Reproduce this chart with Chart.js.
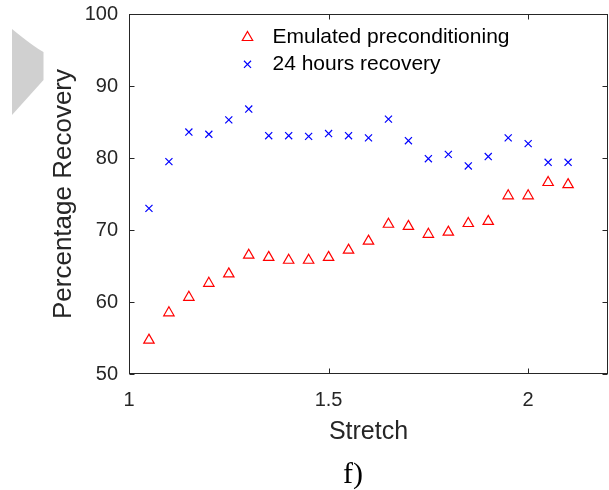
<!DOCTYPE html>
<html><head><meta charset="utf-8">
<script src="https://cdn.jsdelivr.net/npm/chart.js@4.4.0/dist/chart.umd.min.js"></script>
<style>html,body{margin:0;padding:0;background:#fff;} #wrap{width:609px;height:490px;position:relative;}</style>
</head><body><div id="wrap"><canvas id="c" width="609" height="490"></canvas></div>
<script>
const stretch = [1.05, 1.10, 1.15, 1.20, 1.25, 1.30, 1.35, 1.40, 1.45, 1.50, 1.55, 1.60, 1.65, 1.70, 1.75, 1.80, 1.85, 1.90, 1.95, 2.00, 2.05, 2.10];
const emulated = [54.7, 58.5, 60.65, 62.6, 63.9, 66.5, 66.2, 65.8, 65.8, 66.2, 67.2, 68.45, 70.8, 70.5, 69.4, 69.7, 70.9, 71.2, 74.75, 74.75, 76.6, 76.3];
const recovery24 = [73.0, 79.5, 83.6, 83.3, 85.3, 86.8, 83.1, 83.1, 83.0, 83.4, 83.1, 82.8, 85.4, 82.4, 79.9, 80.5, 78.9, 80.2, 82.8, 82.0, 79.4, 79.4];
const xTickValues = [1, 1.5, 2];
const yTickValues = [50, 60, 70, 80, 90, 100];
const seriesNames = ['Emulated preconditioning', '24 hours recovery'];
const xTitle = 'Stretch';
const yTitle = 'Percentage Recovery';
const panelLabel = 'f)';

const SANS = '"Liberation Sans", Arial, sans-serif';
const AX = '#262626';

const framePlugin = {
  id: 'frame',
  beforeDraw(chart) {
    const ctx = chart.ctx;
    ctx.save();
    ctx.fillStyle = '#ffffff';
    ctx.fillRect(0, 0, chart.width, chart.height);
    ctx.fillStyle = '#d0d0d0';
    ctx.beginPath();
    ctx.moveTo(12, 29);
    ctx.quadraticCurveTo(34, 47, 43.5, 52);
    ctx.lineTo(43.5, 80);
    ctx.lineTo(12, 115);
    ctx.closePath();
    ctx.fill();
    ctx.restore();
  },
  afterDraw(chart) {
    const ctx = chart.ctx;
    const a = chart.chartArea;
    const x = chart.scales.x, y = chart.scales.y;
    ctx.save();
    ctx.strokeStyle = AX;
    ctx.lineWidth = 1;
    const L = Math.round(a.left) + 0.5, R = Math.round(a.right) - 0.5;
    const T = Math.round(a.top) + 0.5, B = Math.round(a.bottom) - 0.5;
    ctx.strokeRect(L, T, R - L, B - T);
    ctx.beginPath();
    x.ticks.forEach(t => {
      const px = Math.round(x.getPixelForValue(t.value)) + 0.5;
      ctx.moveTo(px, B); ctx.lineTo(px, B - 5);
      ctx.moveTo(px, T); ctx.lineTo(px, T + 5);
    });
    y.ticks.forEach(t => {
      const py = Math.round(y.getPixelForValue(t.value)) + 0.5;
      ctx.moveTo(L, py); ctx.lineTo(L + 5, py);
      ctx.moveTo(R, py); ctx.lineTo(R - 5, py);
    });
    ctx.stroke();

    // legend
    const markerRows = [37.5, 64.3];
    const textRows = [37.5, 64];
    chart.data.datasets.forEach((ds, i) => {
      ctx.strokeStyle = ds.borderColor;
      ctx.fillStyle = 'rgba(0,0,0,0)';
      ctx.lineWidth = ds.borderWidth;
      Chart.helpers.drawPoint(ctx, {pointStyle: ds.pointStyle, radius: ds.pointRadius, borderWidth: ds.borderWidth, rotation: 0}, 247.5, markerRows[i]);
      ctx.fillStyle = '#000000';
      ctx.font = '21px ' + SANS;
      ctx.textAlign = 'left';
      ctx.textBaseline = 'middle';
      ctx.fillText(ds.label, 272.5, textRows[i]);
    });

    // panel label
    ctx.fillStyle = '#000000';
    ctx.font = '30px "Liberation Serif", "Times New Roman", serif';
    ctx.textAlign = 'center';
    ctx.textBaseline = 'alphabetic';
    ctx.fillText(panelLabel, 353, 483);
    ctx.restore();
  }
};

const toPoints = (xs, ys) => xs.map((v, i) => ({x: v, y: ys[i]}));
const zeroPad = s => { s.paddingTop = 0; s.paddingBottom = 0; s.paddingLeft = 0; s.paddingRight = 0; };

new Chart(document.getElementById('c'), {
  type: 'scatter',
  data: {
    datasets: [
      {
        label: seriesNames[0],
        data: toPoints(stretch, emulated),
        pointStyle: 'triangle',
        pointRadius: 6,
        borderColor: '#ff0000',
        backgroundColor: 'rgba(0,0,0,0)',
        borderWidth: 1.2,
        showLine: false
      },
      {
        label: seriesNames[1],
        data: toPoints(stretch, recovery24),
        pointStyle: 'crossRot',
        pointRadius: 5,
        borderColor: '#0000ff',
        backgroundColor: 'rgba(0,0,0,0)',
        borderWidth: 1.2,
        showLine: false
      }
    ]
  },
  options: {
    responsive: false,
    animation: false,
    devicePixelRatio: 1,
    events: [],
    layout: {autoPadding: false, padding: {left: 0, right: 1, top: 14, bottom: 0}},
    plugins: {legend: {display: false}, tooltip: {enabled: false}, title: {display: false}},
    scales: {
      x: {
        type: 'linear', position: 'bottom', min: 1, max: 2.2,
        afterBuildTicks: s => { s.ticks = xTickValues.map(v => ({value: v})); },
        afterFit: s => { s.height = 116; zeroPad(s); },
        grid: {display: false, drawTicks: false},
        border: {display: false},
        ticks: {padding: 14, color: AX, font: {family: SANS, size: 20}, maxRotation: 0, callback: v => String(v)},
        title: {display: true, text: xTitle, color: AX, font: {family: SANS, size: 25}, padding: {top: 0, bottom: 43}}
      },
      y: {
        type: 'linear', position: 'left', min: 50, max: 100,
        afterBuildTicks: s => { s.ticks = yTickValues.map(v => ({value: v})); },
        afterFit: s => { s.width = 129; zeroPad(s); },
        grid: {display: false, drawTicks: false},
        border: {display: false},
        ticks: {padding: 11, color: AX, font: {family: SANS, size: 20}, callback: v => String(v)},
        title: {display: true, text: yTitle, color: AX, font: {family: SANS, size: 26}, padding: {top: 48, bottom: 0}}
      }
    }
  },
  plugins: [framePlugin]
});
</script>
</body></html>
